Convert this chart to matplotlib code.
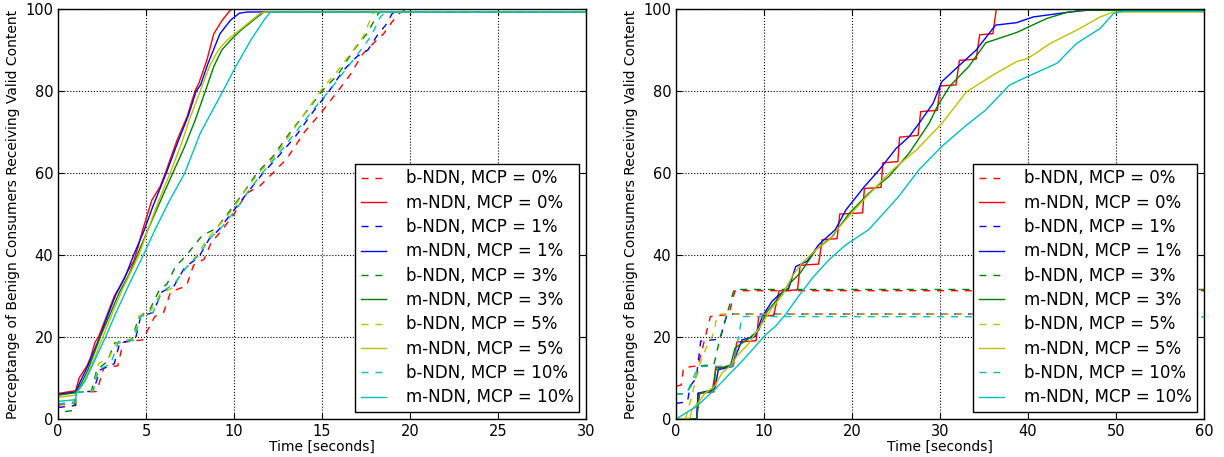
import matplotlib
matplotlib.use("Agg")
import matplotlib.pyplot as plt

# legend order / colours (old matplotlib single-letter colours)
mcp_levels = ["0", "1", "3", "5", "10"]
colors = ["r", "b", "g", "y", "c"]

# ---------------- left panel (0 - 30 s) ----------------
# b-NDN (dashed)
tl_b0 = [0, 1.0, 1.05, 2.2, 2.6, 3.4, 3.7, 4.8, 5.5, 6.0, 6.4, 7.3, 7.7, 8.3, 8.7, 9.3, 10.0, 10.7, 11.5, 12.2, 13.0, 14.0, 15.0, 15.9, 16.6, 17.3, 18.0, 18.5, 19.0, 19.4, 19.8, 30]
vl_b0 = [3.4, 3.9, 6.5, 6.7, 12.5, 13.0, 18.7, 19.3, 25.0, 26.0, 31.0, 32.5, 37.5, 39.0, 43.0, 46.0, 50.0, 55.0, 57.0, 60.0, 63.5, 70.0, 75.0, 80.0, 84.0, 89.0, 92.0, 94.0, 97.0, 99.0, 100, 100]
tl_b1 = [0, 1.0, 1.05, 2.0, 2.4, 3.2, 3.5, 4.4, 4.7, 5.4, 5.9, 6.6, 7.2, 8.0, 8.6, 9.1, 10.0, 11.0, 11.65, 12.5, 13.5, 14.5, 15.4, 16.2, 17.0, 17.6, 18.2, 18.6, 19.0, 19.3, 30]
vl_b1 = [2.8, 3.3, 6.5, 6.8, 12.0, 13.5, 18.5, 19.5, 25.0, 26.0, 31.0, 32.5, 37.0, 39.5, 44.0, 46.0, 51.0, 56.5, 60.0, 64.0, 69.0, 75.0, 80.0, 85.0, 88.5, 90.0, 94.0, 96.0, 99.0, 99.3, 99.3]
tl_b3 = [0.4, 0.9, 1.0, 1.9, 2.2, 2.8, 3.2, 4.2, 4.6, 5.2, 5.7, 6.2, 6.65, 7.3, 8.2, 9.0, 9.8, 10.5, 11.3, 12.2, 13.2, 14.2, 15.0, 15.9, 16.8, 17.55, 18.2, 18.4, 30]
vl_b3 = [1.8, 2.1, 6.5, 6.8, 12.0, 14.0, 18.5, 19.5, 25.0, 26.5, 31.0, 33.0, 37.0, 40.0, 44.8, 46.5, 51.0, 55.0, 60.0, 64.0, 70.0, 75.5, 80.0, 84.0, 90.0, 94.0, 99.0, 99.3, 99.3]
tl_b5 = [0, 1.0, 1.05, 2.0, 2.3, 2.9, 3.3, 4.3, 4.6, 5.3, 5.8, 6.5, 7.1, 7.8, 8.5, 9.0, 9.9, 10.6, 11.4, 12.3, 13.2, 14.1, 14.9, 15.8, 16.6, 17.3, 17.9, 18.1, 30]
vl_b5 = [3.6, 4.0, 6.5, 7.0, 13.5, 15.0, 18.5, 19.5, 25.0, 26.5, 30.5, 32.0, 36.0, 39.5, 44.0, 46.5, 51.0, 55.5, 60.0, 64.0, 69.5, 75.0, 80.0, 84.5, 89.0, 93.0, 99.0, 99.3, 99.3]
tl_b10 = [0, 1.0, 1.05, 2.0, 2.3, 3.0, 3.4, 4.3, 4.7, 5.4, 5.9, 6.6, 7.3, 8.0, 8.6, 9.2, 10.1, 10.8, 11.6, 12.5, 13.5, 14.5, 15.4, 16.3, 17.2, 17.8, 18.3, 18.6, 30]
vl_b10 = [3.7, 4.2, 6.5, 6.8, 12.0, 13.5, 18.5, 19.2, 25.0, 26.0, 31.0, 33.0, 37.0, 40.0, 44.0, 46.3, 51.0, 55.5, 60.0, 64.5, 70.0, 75.5, 80.0, 85.0, 90.0, 93.5, 98.0, 99.3, 99.3]

# m-NDN (solid)
tl_m0 = [0, 1.0, 1.2, 1.65, 1.85, 2.1, 2.3, 2.75, 3.2, 3.6, 3.9, 4.3, 4.55, 4.8, 5.33, 5.8, 6.1, 6.76, 7.33, 7.8, 8.0, 8.46, 8.85, 9.33, 9.8, 9.95, 30]
vl_m0 = [6.2, 6.9, 10.0, 13.0, 15.0, 18.7, 20.0, 25.0, 30.0, 33.0, 35.6, 38.5, 42.0, 46.0, 53.4, 56.7, 60.0, 68.0, 73.7, 80.2, 81.9, 87.6, 94.0, 97.3, 99.8, 100, 100]
tl_m1 = [0, 1.0, 1.25, 1.7, 2.37, 2.8, 3.3, 3.8, 4.3, 4.9, 5.4, 6.15, 6.8, 7.4, 7.85, 8.1, 8.5, 9.2, 9.8, 10.3, 10.75, 30]
vl_m1 = [6.0, 6.6, 9.0, 13.0, 20.0, 25.0, 30.5, 34.5, 40.0, 46.1, 52.0, 60.0, 67.5, 74.0, 80.0, 81.5, 86.5, 94.0, 97.3, 99.0, 99.3, 99.3]
tl_m3 = [0, 1.0, 1.3, 1.7, 2.4, 2.9, 3.5, 4.0, 4.5, 5.1, 5.8, 6.52, 7.2, 7.8, 8.37, 8.85, 9.3, 9.8, 10.4, 11.3, 11.7, 30]
vl_m3 = [5.8, 6.4, 8.5, 12.0, 20.0, 25.0, 31.0, 35.0, 40.0, 46.1, 53.0, 60.0, 66.5, 73.0, 80.0, 86.0, 90.0, 92.4, 94.9, 98.0, 99.3, 99.3]
tl_m5 = [0, 1.0, 1.1, 1.4, 1.8, 2.55, 3.1, 3.7, 4.6, 5.1, 5.7, 6.37, 7.0, 7.5, 8.08, 8.6, 9.1, 9.6, 10.55, 11.5, 11.8, 30]
vl_m5 = [5.3, 5.8, 6.5, 8.5, 12.0, 20.0, 26.0, 32.0, 40.0, 46.1, 53.0, 60.0, 67.0, 73.5, 80.0, 86.0, 90.0, 92.4, 95.7, 99.0, 99.3, 99.3]
tl_m10 = [0, 1.0, 1.05, 1.5, 2.0, 2.7, 3.3, 4.0, 4.85, 5.5, 6.3, 7.2, 8.08, 8.8, 9.37, 10.1, 10.95, 11.7, 12.07, 30]
vl_m10 = [4.3, 4.7, 6.5, 9.0, 13.5, 20.0, 26.0, 32.5, 40.0, 46.1, 53.0, 60.0, 69.7, 75.5, 80.0, 86.0, 92.4, 97.3, 99.3, 99.3]

# ---------------- right panel (0 - 60 s) ----------------
# b-NDN (dashed)
tr_b0 = [0, 0.6, 0.85, 2.5, 3.2, 3.9, 6.0, 6.7, 60]
vr_b0 = [8.0, 8.3, 12.5, 13.0, 19.0, 25.0, 25.5, 31.3, 31.3]
tr_b1 = [0, 1.3, 1.6, 2.3, 2.8, 5.0, 5.8, 60]
vr_b1 = [3.8, 4.2, 8.0, 10.0, 19.0, 19.5, 25.6, 25.6]
tr_b3 = [0, 1.2, 2.2, 2.8, 4.3, 5.0, 5.6, 6.2, 6.6, 60]
vr_b3 = [6.0, 6.3, 10.0, 13.0, 13.2, 19.8, 24.2, 28.7, 31.6, 31.6]
tr_b5 = [1.1, 1.3, 1.8, 2.5, 3.5, 4.3, 4.6, 4.9, 60]
vr_b5 = [0.0, 2.0, 5.5, 12.5, 17.7, 21.0, 24.6, 25.6, 25.6]
tr_b10 = [0, 1.2, 2.2, 2.8, 6.5, 7.0, 7.5, 60]
vr_b10 = [6.0, 6.2, 11.2, 12.8, 12.9, 19.0, 25.0, 24.9]

# m-NDN (solid)
tr_m0 = [0, 2.35, 2.5, 4.3, 4.5, 6.5, 6.9, 9.1, 9.4, 11.1, 11.7, 13.8, 14.1, 16.2, 16.6, 18.3, 18.6,
         21.2, 21.4, 23.3, 23.5, 25.2, 25.4, 27.5, 27.8, 29.7, 30.0, 31.8, 32.2, 34.1, 34.5, 36.0, 36.4, 60]
vr_m0 = [0, 0, 6.25, 6.6, 12.5, 12.8, 18.75, 19.1, 25.0, 25.3, 31.25, 31.5, 37.5, 37.8, 43.75, 44.0, 50.0,
         50.3, 56.25, 56.5, 62.5, 62.8, 68.75, 69.2, 75.0, 75.3, 81.25, 81.5, 87.5, 87.8, 93.75, 94.0, 100, 100]
tr_m1 = [0, 2.35, 2.5, 4.4, 4.8, 6.3, 7.5, 9.0, 9.8, 10.9, 11.7, 12.8, 13.6, 14.9, 16.2, 18.1, 19.3, 21.4,
         23.1, 25.0, 26.5, 27.6, 29.2, 30.2, 32.0, 34.1, 36.3, 38.7, 40.6, 44.4, 47.0, 48.0, 60]
vr_m1 = [0, 0, 6.3, 7.2, 12.0, 12.8, 19.3, 20.1, 25.0, 28.7, 30.3, 31.9, 37.2, 38.5, 42.5, 46.2, 51.0, 56.7,
         60.8, 66.0, 68.9, 72.1, 77.0, 82.3, 85.9, 90.0, 96.1, 96.7, 98.1, 99.2, 99.8, 100, 100]
tr_m3 = [0, 2.35, 2.7, 4.1, 4.5, 6.2, 6.7, 8.3, 9.4, 10.2, 11.3, 12.8, 14.1, 15.9, 17.8, 18.3, 19.7, 21.9,
         24.2, 26.5, 28.8, 29.7, 31.1, 33.3, 35.2, 38.7, 42.1, 44.4, 46.0, 60]
vr_m3 = [0, 0, 6.3, 6.7, 12.0, 13.2, 17.3, 19.7, 21.7, 25.8, 28.7, 32.8, 35.6, 41.3, 44.6, 46.2, 50.2, 55.1,
         59.2, 64.9, 72.3, 76.3, 81.2, 86.1, 91.8, 94.3, 97.7, 99.2, 99.7, 99.7]
tr_m5 = [0, 1.6, 1.8, 2.5, 3.3, 4.4, 5.2, 6.3, 6.9, 8.3, 9.8, 10.9, 12.1, 13.2, 14.3, 15.9, 17.4, 18.3,
         21.4, 24.6, 27.3, 30.2, 33.0, 36.0, 38.7, 40.0, 42.5, 45.9, 48.2, 49.7, 60]
vr_m5 = [0, 0.2, 2.3, 3.9, 6.3, 8.0, 11.2, 13.2, 15.3, 18.5, 23.4, 27.0, 30.3, 34.8, 38.0, 41.3, 43.7, 46.2,
         53.7, 60.8, 65.6, 72.1, 79.8, 83.9, 87.2, 88.0, 91.6, 95.3, 98.1, 99.3, 99.3]
tr_m10 = [0, 2.35, 4.4, 6.0, 7.5, 9.0, 10.2, 11.3, 12.4, 13.9, 15.5, 17.4, 19.3, 21.9, 25.3, 27.6, 30.2,
          33.0, 35.2, 37.9, 39.9, 43.3, 45.5, 48.2, 49.7, 50.8, 60]
vr_m10 = [0, 3.1, 7.2, 10.8, 14.1, 17.7, 20.6, 22.6, 25.4, 29.9, 34.4, 38.9, 42.5, 46.2, 54.3, 60.8, 66.5,
          71.7, 75.4, 81.5, 83.5, 86.8, 91.6, 95.3, 98.9, 99.5, 99.5]

left_b = [(tl_b0, vl_b0), (tl_b1, vl_b1), (tl_b3, vl_b3), (tl_b5, vl_b5), (tl_b10, vl_b10)]
left_m = [(tl_m0, vl_m0), (tl_m1, vl_m1), (tl_m3, vl_m3), (tl_m5, vl_m5), (tl_m10, vl_m10)]
right_b = [(tr_b0, vr_b0), (tr_b1, vr_b1), (tr_b3, vr_b3), (tr_b5, vr_b5), (tr_b10, vr_b10)]
right_m = [(tr_m0, vr_m0), (tr_m1, vr_m1), (tr_m3, vr_m3), (tr_m5, vr_m5), (tr_m10, vr_m10)]

fig, axes = plt.subplots(1, 2, figsize=(12.24, 4.57), dpi=100)
fig.subplots_adjust(left=0.0474, right=0.9837, bottom=0.0832, top=0.980, wspace=0.1705)


def draw_panel(ax, b_series, m_series, xmax, xticks):
    for i in range(len(mcp_levels)):
        tb, vb = b_series[i]
        tm, vm = m_series[i]
        ax.plot(tb, vb, color=colors[i], linestyle="--", dashes=(5, 5), linewidth=1.0,
                label=f"b-NDN, MCP = {mcp_levels[i]}%")
        ax.plot(tm, vm, color=colors[i], linestyle="-", linewidth=1.0,
                label=f"m-NDN, MCP = {mcp_levels[i]}%")
    ax.set_xlim(0, xmax)
    ax.set_ylim(0, 100)
    ax.set_xticks(xticks)
    ax.set_yticks([0, 20, 40, 60, 80, 100])
    ax.grid(True, color="black", linestyle=":", linewidth=0.8)
    ax.tick_params(direction="in", top=True, right=True, length=4, labelsize=10.5)
    ax.set_xlabel("Time [seconds]", fontsize=10, labelpad=1)
    ax.set_ylabel("Perceptange of Benign Consumers Receiving Valid Content", fontsize=10)
    for s in ax.spines.values():
        s.set_linewidth(1.0)
    leg = ax.legend(loc="lower right", fontsize=12, fancybox=False, framealpha=1,
                    edgecolor="black", handlelength=1.5, handletextpad=1.2,
                    labelspacing=0.38, borderpad=0.35, borderaxespad=0.4)
    leg.get_frame().set_linewidth(1.0)


draw_panel(axes[0], left_b, left_m, 30, [0, 5, 10, 15, 20, 25, 30])
draw_panel(axes[1], right_b, right_m, 60, [0, 10, 20, 30, 40, 50, 60])

fig.savefig("out.png", dpi=100)
